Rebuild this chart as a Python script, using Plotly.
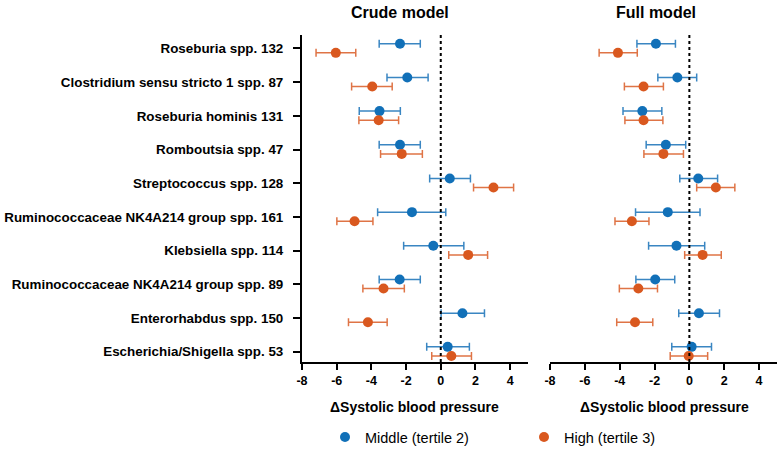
import plotly.graph_objects as go

categories = ["Roseburia spp. 132", "Clostridium sensu stricto 1 spp. 87", "Roseburia hominis 131",
              "Romboutsia spp. 47", "Streptococcus spp. 128", "Ruminococcaceae NK4A214 group spp. 161",
              "Klebsiella spp. 114", "Ruminococcaceae NK4A214 group spp. 89", "Enterorhabdus spp. 150",
              "Escherichia/Shigella spp. 53"]

# Crude model
crude_mid = [-2.35, -1.93, -3.53, -2.35, 0.52, -1.66, -0.43, -2.37, 1.25, 0.40]
crude_mid_lo = [-3.55, -3.10, -4.70, -3.55, -0.64, -3.64, -2.14, -3.55, 0.02, -0.81]
crude_mid_hi = [-1.18, -0.73, -2.33, -1.18, 1.71, 0.29, 1.33, -1.18, 2.52, 1.65]
crude_high = [-6.05, -3.95, -3.58, -2.25, 3.04, -4.97, 1.58, -3.30, -4.20, 0.61]
crude_high_lo = [-7.19, -5.14, -4.72, -3.47, 1.89, -5.99, 0.46, -4.49, -5.32, -0.52]
crude_high_hi = [-4.90, -2.80, -2.43, -1.06, 4.20, -3.91, 2.70, -2.10, -3.09, 1.77]

# Full model
full_mid = [-1.92, -0.69, -2.70, -1.35, 0.51, -1.24, -0.74, -1.96, 0.55, 0.13]
full_mid_lo = [-3.01, -1.81, -3.81, -2.48, -0.55, -3.09, -2.34, -3.07, -0.61, -1.01]
full_mid_hi = [-0.80, 0.42, -1.58, -0.21, 1.62, 0.61, 0.88, -0.84, 1.73, 1.27]
full_high = [-4.10, -2.63, -2.63, -1.49, 1.52, -3.30, 0.76, -2.93, -3.12, -0.04]
full_high_lo = [-5.18, -3.73, -3.70, -2.61, 0.42, -4.27, -0.27, -4.02, -4.17, -1.10]
full_high_hi = [-2.99, -1.49, -1.52, -0.34, 2.61, -2.32, 1.83, -1.83, -2.10, 1.05]

x_ticks = [-8, -6, -4, -2, 0, 2, 4]
x_tick_labels = ["-8", "-6", "-4", "-2", "0", "2", "4"]
panel_titles = ["Crude model", "Full model"]
x_title = "ΔSystolic blood pressure"
series_names = ["Middle (tertile 2)", "High (tertile 3)"]

BLUE = "#1170b8"
ORANGE = "#d9581f"
BLUE_BAR = "#3a86c2"
ORANGE_BAR = "#df7446"
FONT = "Liberation Sans, Arial, sans-serif"

idx = list(range(len(categories)))
fig = go.Figure()


def add_series(xs, lo, hi, color, barcolor, offset, xa, ya, name, show):
    fig.add_trace(go.Scatter(
        x=xs, y=[i + offset for i in idx], mode="markers",
        marker=dict(color=color, size=10),
        error_x=dict(type="data", symmetric=False,
                     array=[h - v for h, v in zip(hi, xs)],
                     arrayminus=[v - l for v, l in zip(xs, lo)],
                     color=barcolor, thickness=1.5, width=4),
        xaxis=xa, yaxis=ya, name=name, showlegend=show))


add_series(crude_mid, crude_mid_lo, crude_mid_hi, BLUE, BLUE_BAR, -0.14, "x", "y", series_names[0], True)
add_series(crude_high, crude_high_lo, crude_high_hi, ORANGE, ORANGE_BAR, 0.13, "x", "y", series_names[1], True)
add_series(full_mid, full_mid_lo, full_mid_hi, BLUE, BLUE_BAR, -0.14, "x2", "y2", series_names[0], False)
add_series(full_high, full_high_lo, full_high_hi, ORANGE, ORANGE_BAR, 0.13, "x2", "y2", series_names[1], False)

xaxis_common = dict(range=[-8, 5.03], tickvals=x_ticks, ticktext=x_tick_labels, showline=True,
                    linecolor="black", linewidth=2,
                    ticks="outside", ticklen=6, tickwidth=2, tickcolor="black", showgrid=False, zeroline=False,
                    tickfont=dict(family=FONT, size=12.5, color="black", weight="bold"))
yaxis_common = dict(range=[9.31, -0.4], showgrid=False, zeroline=False)

L, R = 302, 2
PW = 779 - L - R
d1 = [0, (528 - L) / PW]
d2 = [(550 - L) / PW, 1]
title_x = [(400 - L) / PW, (656 - L) / PW]
axis_title_x = [(414 - L) / PW, (664 - L) / PW]

fig.update_layout(
    width=779, height=449,
    paper_bgcolor="white", plot_bgcolor="white",
    margin=dict(l=L, r=R, t=35, b=87, autoexpand=False),
    xaxis=dict(domain=d1, anchor="y", **xaxis_common),
    xaxis2=dict(domain=d2, anchor="y2", **xaxis_common),
    yaxis=dict(anchor="x", tickvals=idx, ticktext=categories, showline=True, linecolor="black", linewidth=2,
               ticks="outside", ticklen=7, tickwidth=2, tickcolor="black", ticklabelstandoff=7,
               tickfont=dict(family=FONT, size=13.4, color="black", weight="bold"), **yaxis_common),
    yaxis2=dict(anchor="x2", showticklabels=False, showline=False, ticks="", **yaxis_common),
    showlegend=True,
    legend=dict(orientation="h", x=325 / 779, xanchor="left", xref="container",
                y=(449 - 437) / 449, yanchor="middle", yref="container",
                entrywidth=154, entrywidthmode="pixels", itemwidth=30,
                font=dict(family=FONT, size=14.5, color="black")),
)

for xa, ya in [("x", "y"), ("x2", "y2")]:
    fig.add_shape(type="line", xref=xa, yref=ya + " domain", x0=0, x1=0, y0=0, y1=1,
                  line=dict(color="black", width=2, dash="dot"))

for title, tx, ax in zip(panel_titles, title_x, axis_title_x):
    fig.add_annotation(text=title, xref="paper", yref="paper", x=tx, xanchor="center",
                       y=1.0, yshift=23, showarrow=False, yanchor="middle",
                       font=dict(family=FONT, size=16, color="black", weight="bold"))
    fig.add_annotation(text=x_title, xref="paper", yref="paper", x=ax, xanchor="center",
                       y=0.0, yshift=-45, showarrow=False, yanchor="middle",
                       font=dict(family=FONT, size=14, color="black", weight="bold"))

fig.write_html("out.html", config={"displayModeBar": False},
               post_script="document.body.style.margin='0px';")
